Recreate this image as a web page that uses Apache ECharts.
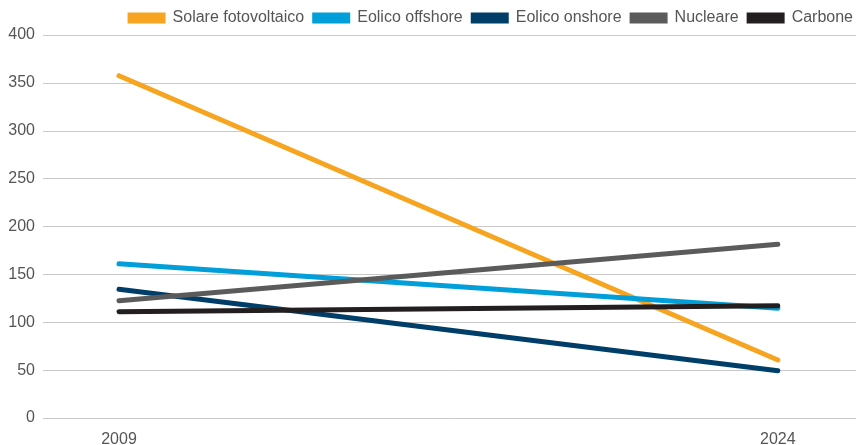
<!DOCTYPE html>
<html>
<head>
<meta charset="utf-8">
<script src="https://cdn.jsdelivr.net/npm/echarts@6/dist/echarts.min.js"></script>
<style>
html,body{margin:0;padding:0;background:#fff;}
#chart{width:856px;height:445px;}
</style>
</head>
<body>
<div id="chart"></div>
<script>
const years = [2009, 2024];
const seriesNames = ['Solare fotovoltaico', 'Eolico offshore', 'Eolico onshore', 'Nucleare', 'Carbone'];
const solare = [357.5, 60.6];
const eolicoOffshore = [161, 114.6];
const eolicoOnshore = [134.4, 49.4];
const nucleare = [122.5, 181.4];
const carbone = [111, 117.3];
const yTicks = [0, 50, 100, 150, 200, 250, 300, 350, 400];
const colors = ['#F7A520', '#009FDA', '#003E6A', '#5B5B5B', '#231F20'];

const values = [solare, eolicoOffshore, eolicoOnshore, nucleare, carbone];
const chart = echarts.init(document.getElementById('chart'), null, {renderer: 'canvas'});
const font = 'Liberation Sans, Arial, sans-serif';
chart.setOption({
  animation: false,
  color: colors,
  textStyle: {fontFamily: font},
  legend: {
    right: 3, top: 10, padding: 0,
    itemWidth: 38, itemHeight: 11, itemGap: 8,
    icon: 'rect',
    textStyle: {fontSize: 16, color: '#555', fontFamily: font, padding: [0, 0, 0, 2]},
    data: seriesNames
  },
  grid: {left: 43, right: 0, top: 35, bottom: 27, containLabel: false, outerBoundsMode: 'none'},
  xAxis: {
    type: 'value',
    min: 2007.27, max: 2025.78,
    axisLine: {show: false}, axisTick: {show: false}, splitLine: {show: false},
    axisLabel: {
      customValues: years,
      formatter: v => String(v),
      fontSize: 16, color: '#555', margin: 14, fontFamily: font
    }
  },
  yAxis: {
    type: 'value',
    min: yTicks[0], max: yTicks[yTicks.length - 1], interval: 50,
    axisLine: {show: false}, axisTick: {show: false},
    splitLine: {lineStyle: {color: '#c9c9c9', width: 1}},
    axisLabel: {fontSize: 16, color: '#555', margin: 8, fontFamily: font, padding: [0, 0, 8, 0]}
  },
  series: seriesNames.map((n, i) => ({
    name: n,
    type: 'line',
    data: years.map((y, j) => [y, values[i][j]]),
    symbol: 'none',
    lineStyle: {width: 5, cap: 'round', color: colors[i]},
    itemStyle: {color: colors[i]}
  }))
});
</script>
</body>
</html>
